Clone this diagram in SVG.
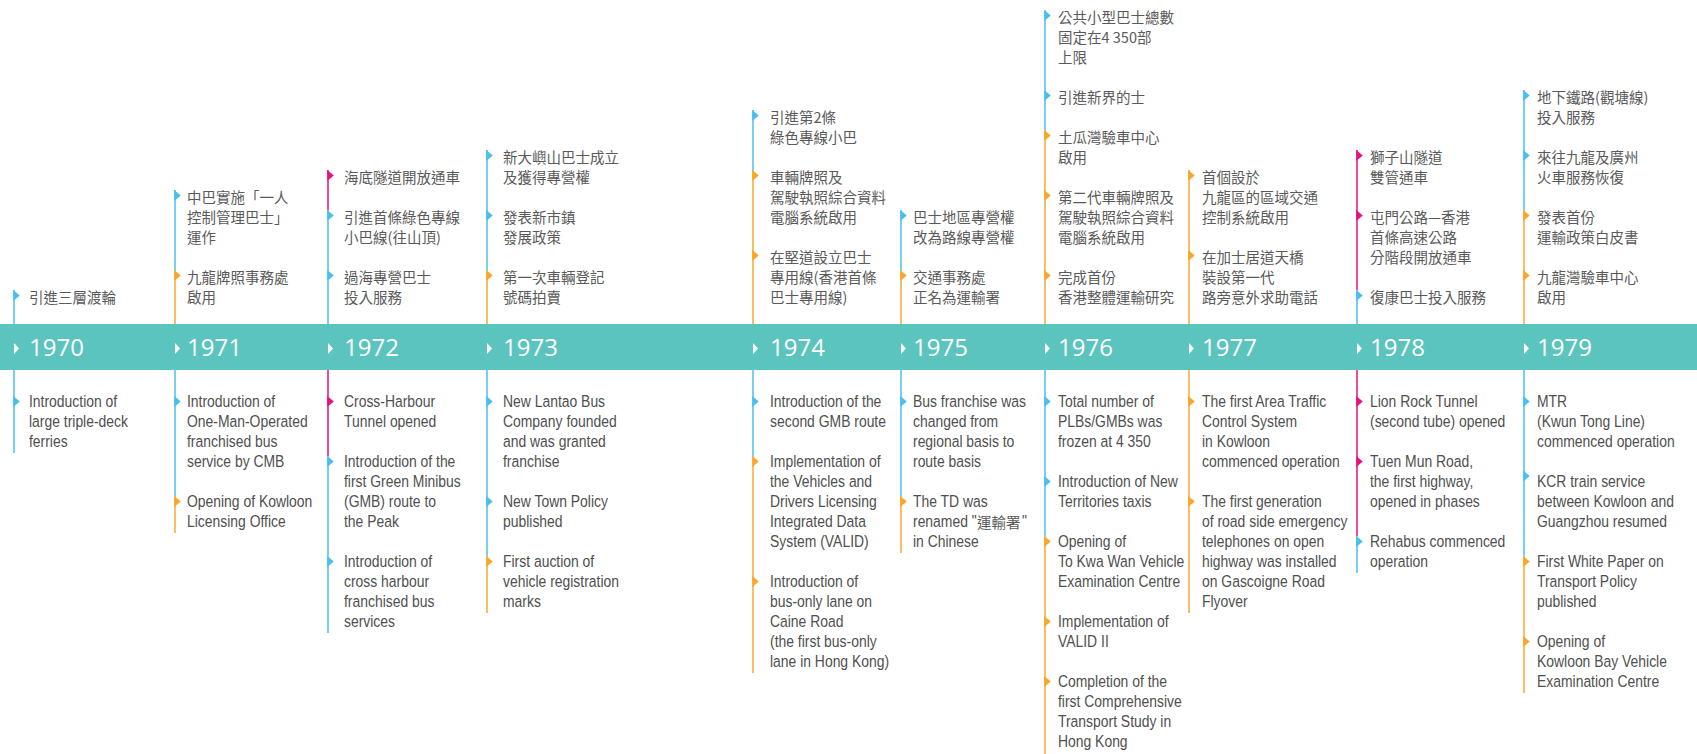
<svg xmlns="http://www.w3.org/2000/svg" xmlns:xlink="http://www.w3.org/1999/xlink" width="1697" height="754" viewBox="0 0 1697 754">
  <style>
    .cn { font-family: "Noto Sans CJK TC", "Noto Sans CJK SC", sans-serif; font-size: 14.5px; fill: #5a5a5a; }
    .en { font-family: "Liberation Sans", Arial, sans-serif; font-size: 16.5px; fill: #4f4f4f; }
    .yr { font-family: "Open Sans", "Noto Sans", sans-serif; font-size: 24px; fill: #ffffff; }
    .b { fill: #48c0ee; }
    .o { fill: #f8a72a; }
    .m { fill: #e6127f; }
    .lb { stroke: #48c0ee; stroke-width: 1.5; fill: none; }
    .lo { stroke: #f8a72a; stroke-width: 1.5; fill: none; }
    .lm { stroke: #e6127f; stroke-width: 1.5; fill: none; }
  </style>
  <defs>
    <path id="tick" d="M-0.75,-5.5 L5.75,0 L-0.75,5.5 Z"/>
    <path id="ytick" d="M0,-5.5 L5,0 L0,5.5 Z" fill="#ffffff"/>
  </defs>
  <rect width="1697" height="754" fill="#ffffff"/>

  <!-- vertical stems, coloured per event segment -->
  <g id="connectors">
    <line class="lb" x1="14" y1="290" x2="14" y2="324"/>
    <line class="lb" x1="14" y1="370" x2="14" y2="453"/>

    <line class="lb" x1="175" y1="190" x2="175" y2="270"/>
    <line class="lo" x1="175" y1="270" x2="175" y2="324"/>
    <line class="lb" x1="175" y1="370" x2="175" y2="496"/>
    <line class="lo" x1="175" y1="496" x2="175" y2="533"/>

    <line class="lm" x1="328" y1="170" x2="328" y2="210"/>
    <line class="lb" x1="328" y1="210" x2="328" y2="324"/>
    <line class="lm" x1="328" y1="370" x2="328" y2="456"/>
    <line class="lb" x1="328" y1="456" x2="328" y2="633"/>

    <line class="lb" x1="487" y1="150" x2="487" y2="270"/>
    <line class="lo" x1="487" y1="270" x2="487" y2="324"/>
    <line class="lb" x1="487" y1="370" x2="487" y2="556"/>
    <line class="lo" x1="487" y1="556" x2="487" y2="613"/>

    <line class="lb" x1="753" y1="110" x2="753" y2="170"/>
    <line class="lo" x1="753" y1="170" x2="753" y2="324"/>
    <line class="lb" x1="753" y1="370" x2="753" y2="456"/>
    <line class="lo" x1="753" y1="456" x2="753" y2="673"/>

    <line class="lb" x1="901" y1="210" x2="901" y2="270"/>
    <line class="lo" x1="901" y1="270" x2="901" y2="324"/>
    <line class="lb" x1="901" y1="370" x2="901" y2="496"/>
    <line class="lo" x1="901" y1="496" x2="901" y2="553"/>

    <line class="lb" x1="1045" y1="10" x2="1045" y2="130"/>
    <line class="lo" x1="1045" y1="130" x2="1045" y2="324"/>
    <line class="lb" x1="1045" y1="370" x2="1045" y2="536"/>
    <line class="lo" x1="1045" y1="536" x2="1045" y2="754"/>

    <line class="lo" x1="1189" y1="170" x2="1189" y2="324"/>
    <line class="lo" x1="1189" y1="370" x2="1189" y2="613"/>

    <line class="lm" x1="1357" y1="150" x2="1357" y2="290"/>
    <line class="lb" x1="1357" y1="290" x2="1357" y2="324"/>
    <line class="lm" x1="1357" y1="370" x2="1357" y2="536"/>
    <line class="lb" x1="1357" y1="536" x2="1357" y2="573"/>

    <line class="lb" x1="1524" y1="90" x2="1524" y2="210"/>
    <line class="lo" x1="1524" y1="210" x2="1524" y2="324"/>
    <line class="lb" x1="1524" y1="370" x2="1524" y2="556"/>
    <line class="lo" x1="1524" y1="556" x2="1524" y2="693"/>
  </g>

  <!-- year band -->
  <g id="band">
    <rect x="0" y="324" width="1697" height="46" fill="#5bc4be"/>
  </g>

  <!-- English captions use a horizontally condensed face: matrix(0.844 0 0 1 x 0) -->
  <g id="y1970">
    <use xlink:href="#ytick" x="14" y="348.5"/>
    <text class="yr" x="29" y="356">1970</text>
    <use xlink:href="#tick" class="b" x="14" y="295.5"/>
    <text class="cn" x="29" y="302.5">引進三層渡輪</text>
    <use xlink:href="#tick" class="b" x="14" y="401.5"/>
    <text class="en" transform="matrix(0.844 0 0 1 29 0)" y="407.5"><tspan x="0">Introduction of</tspan><tspan x="0" dy="20">large triple-deck</tspan><tspan x="0" dy="20">ferries</tspan></text>
  </g>

  <g id="y1971">
    <use xlink:href="#ytick" x="175" y="348.5"/>
    <text class="yr" x="187" y="356">1971</text>
    <use xlink:href="#tick" class="b" x="175" y="195.5"/>
    <text class="cn" x="187" y="202.5"><tspan x="187">中巴實施「一人</tspan><tspan x="187" dy="20">控制管理巴士」</tspan><tspan x="187" dy="20">運作</tspan></text>
    <use xlink:href="#tick" class="o" x="175" y="275.5"/>
    <text class="cn" x="187" y="282.5"><tspan x="187">九龍牌照事務處</tspan><tspan x="187" dy="20">啟用</tspan></text>
    <use xlink:href="#tick" class="b" x="175" y="401.5"/>
    <text class="en" transform="matrix(0.844 0 0 1 187 0)" y="407.5"><tspan x="0">Introduction of</tspan><tspan x="0" dy="20">One-Man-Operated</tspan><tspan x="0" dy="20">franchised bus</tspan><tspan x="0" dy="20">service by CMB</tspan></text>
    <use xlink:href="#tick" class="o" x="175" y="501.5"/>
    <text class="en" transform="matrix(0.844 0 0 1 187 0)" y="507.5"><tspan x="0">Opening of Kowloon</tspan><tspan x="0" dy="20">Licensing Office</tspan></text>
  </g>

  <g id="y1972">
    <use xlink:href="#ytick" x="328" y="348.5"/>
    <text class="yr" x="344" y="356">1972</text>
    <use xlink:href="#tick" class="m" x="328" y="175.5"/>
    <text class="cn" x="344" y="182.5">海底隧道開放通車</text>
    <use xlink:href="#tick" class="b" x="328" y="215.5"/>
    <text class="cn" x="344" y="222.5"><tspan x="344">引進首條綠色專線</tspan><tspan x="344" dy="20">小巴線(往山頂)</tspan></text>
    <use xlink:href="#tick" class="b" x="328" y="275.5"/>
    <text class="cn" x="344" y="282.5"><tspan x="344">過海專營巴士</tspan><tspan x="344" dy="20">投入服務</tspan></text>
    <use xlink:href="#tick" class="m" x="328" y="401.5"/>
    <text class="en" transform="matrix(0.844 0 0 1 344 0)" y="407.5"><tspan x="0">Cross-Harbour</tspan><tspan x="0" dy="20">Tunnel opened</tspan></text>
    <use xlink:href="#tick" class="b" x="328" y="461.5"/>
    <text class="en" transform="matrix(0.844 0 0 1 344 0)" y="467.5"><tspan x="0">Introduction of the</tspan><tspan x="0" dy="20">first Green Minibus</tspan><tspan x="0" dy="20">(GMB) route to</tspan><tspan x="0" dy="20">the Peak</tspan></text>
    <use xlink:href="#tick" class="b" x="328" y="561.5"/>
    <text class="en" transform="matrix(0.844 0 0 1 344 0)" y="567.5"><tspan x="0">Introduction of</tspan><tspan x="0" dy="20">cross harbour</tspan><tspan x="0" dy="20">franchised bus</tspan><tspan x="0" dy="20">services</tspan></text>
  </g>

  <g id="y1973">
    <use xlink:href="#ytick" x="487" y="348.5"/>
    <text class="yr" x="503" y="356">1973</text>
    <use xlink:href="#tick" class="b" x="487" y="155.5"/>
    <text class="cn" x="503" y="162.5"><tspan x="503">新大嶼山巴士成立</tspan><tspan x="503" dy="20">及獲得專營權</tspan></text>
    <use xlink:href="#tick" class="b" x="487" y="215.5"/>
    <text class="cn" x="503" y="222.5"><tspan x="503">發表新市鎮</tspan><tspan x="503" dy="20">發展政策</tspan></text>
    <use xlink:href="#tick" class="o" x="487" y="275.5"/>
    <text class="cn" x="503" y="282.5"><tspan x="503">第一次車輛登記</tspan><tspan x="503" dy="20">號碼拍賣</tspan></text>
    <use xlink:href="#tick" class="b" x="487" y="401.5"/>
    <text class="en" transform="matrix(0.844 0 0 1 503 0)" y="407.5"><tspan x="0">New Lantao Bus</tspan><tspan x="0" dy="20">Company founded</tspan><tspan x="0" dy="20">and was granted</tspan><tspan x="0" dy="20">franchise</tspan></text>
    <use xlink:href="#tick" class="b" x="487" y="501.5"/>
    <text class="en" transform="matrix(0.844 0 0 1 503 0)" y="507.5"><tspan x="0">New Town Policy</tspan><tspan x="0" dy="20">published</tspan></text>
    <use xlink:href="#tick" class="o" x="487" y="561.5"/>
    <text class="en" transform="matrix(0.844 0 0 1 503 0)" y="567.5"><tspan x="0">First auction of</tspan><tspan x="0" dy="20">vehicle registration</tspan><tspan x="0" dy="20">marks</tspan></text>
  </g>

  <g id="y1974">
    <use xlink:href="#ytick" x="753" y="348.5"/>
    <text class="yr" x="770" y="356">1974</text>
    <use xlink:href="#tick" class="b" x="753" y="115.5"/>
    <text class="cn" x="770" y="122.5"><tspan x="770">引進第2條</tspan><tspan x="770" dy="20">綠色專線小巴</tspan></text>
    <use xlink:href="#tick" class="o" x="753" y="175.5"/>
    <text class="cn" x="770" y="182.5"><tspan x="770">車輛牌照及</tspan><tspan x="770" dy="20">駕駛執照綜合資料</tspan><tspan x="770" dy="20">電腦系統啟用</tspan></text>
    <use xlink:href="#tick" class="o" x="753" y="255.5"/>
    <text class="cn" x="770" y="262.5"><tspan x="770">在堅道設立巴士</tspan><tspan x="770" dy="20">專用線(香港首條</tspan><tspan x="770" dy="20">巴士專用線)</tspan></text>
    <use xlink:href="#tick" class="b" x="753" y="401.5"/>
    <text class="en" transform="matrix(0.844 0 0 1 770 0)" y="407.5"><tspan x="0">Introduction of the</tspan><tspan x="0" dy="20">second GMB route</tspan></text>
    <use xlink:href="#tick" class="o" x="753" y="461.5"/>
    <text class="en" transform="matrix(0.844 0 0 1 770 0)" y="467.5"><tspan x="0">Implementation of</tspan><tspan x="0" dy="20">the Vehicles and</tspan><tspan x="0" dy="20">Drivers Licensing</tspan><tspan x="0" dy="20">Integrated Data</tspan><tspan x="0" dy="20">System (VALID)</tspan></text>
    <use xlink:href="#tick" class="o" x="753" y="581.5"/>
    <text class="en" transform="matrix(0.844 0 0 1 770 0)" y="587.5"><tspan x="0">Introduction of</tspan><tspan x="0" dy="20">bus-only lane on</tspan><tspan x="0" dy="20">Caine Road</tspan><tspan x="0" dy="20">(the first bus-only</tspan><tspan x="0" dy="20">lane in Hong Kong)</tspan></text>
  </g>

  <g id="y1975">
    <use xlink:href="#ytick" x="901" y="348.5"/>
    <text class="yr" x="913" y="356">1975</text>
    <use xlink:href="#tick" class="b" x="901" y="215.5"/>
    <text class="cn" x="913" y="222.5"><tspan x="913">巴士地區專營權</tspan><tspan x="913" dy="20">改為路線專營權</tspan></text>
    <use xlink:href="#tick" class="o" x="901" y="275.5"/>
    <text class="cn" x="913" y="282.5"><tspan x="913">交通事務處</tspan><tspan x="913" dy="20">正名為運輸署</tspan></text>
    <use xlink:href="#tick" class="b" x="901" y="401.5"/>
    <text class="en" transform="matrix(0.844 0 0 1 913 0)" y="407.5"><tspan x="0">Bus franchise was</tspan><tspan x="0" dy="20">changed from</tspan><tspan x="0" dy="20">regional basis to</tspan><tspan x="0" dy="20">route basis</tspan></text>
    <use xlink:href="#tick" class="o" x="901" y="501.5"/>
    <text class="en" transform="matrix(0.844 0 0 1 913 0)" y="507.5"><tspan x="0">The TD was</tspan><tspan x="0" dy="20">renamed "</tspan><tspan x="0" dy="20">in Chinese</tspan></text>
    <text class="cn" x="977" y="527.5">運輸署</text>
    <text class="en" transform="matrix(0.844 0 0 1 1022 0)" x="0" y="527.5">"</text>
  </g>

  <g id="y1976">
    <use xlink:href="#ytick" x="1045" y="348.5"/>
    <text class="yr" x="1058" y="356">1976</text>
    <use xlink:href="#tick" class="b" x="1045" y="15.5"/>
    <text class="cn" x="1058" y="22.5"><tspan x="1058">公共小型巴士總數</tspan><tspan x="1058" dy="20">固定在4 350部</tspan><tspan x="1058" dy="20">上限</tspan></text>
    <use xlink:href="#tick" class="b" x="1045" y="95.5"/>
    <text class="cn" x="1058" y="102.5">引進新界的士</text>
    <use xlink:href="#tick" class="o" x="1045" y="135.5"/>
    <text class="cn" x="1058" y="142.5"><tspan x="1058">土瓜灣驗車中心</tspan><tspan x="1058" dy="20">啟用</tspan></text>
    <use xlink:href="#tick" class="o" x="1045" y="195.5"/>
    <text class="cn" x="1058" y="202.5"><tspan x="1058">第二代車輛牌照及</tspan><tspan x="1058" dy="20">駕駛執照綜合資料</tspan><tspan x="1058" dy="20">電腦系統啟用</tspan></text>
    <use xlink:href="#tick" class="o" x="1045" y="275.5"/>
    <text class="cn" x="1058" y="282.5"><tspan x="1058">完成首份</tspan><tspan x="1058" dy="20">香港整體運輸研究</tspan></text>
    <use xlink:href="#tick" class="b" x="1045" y="401.5"/>
    <text class="en" transform="matrix(0.844 0 0 1 1058 0)" y="407.5"><tspan x="0">Total number of</tspan><tspan x="0" dy="20">PLBs/GMBs was</tspan><tspan x="0" dy="20">frozen at 4 350</tspan></text>
    <use xlink:href="#tick" class="b" x="1045" y="481.5"/>
    <text class="en" transform="matrix(0.844 0 0 1 1058 0)" y="487.5"><tspan x="0">Introduction of New</tspan><tspan x="0" dy="20">Territories taxis</tspan></text>
    <use xlink:href="#tick" class="o" x="1045" y="541.5"/>
    <text class="en" transform="matrix(0.844 0 0 1 1058 0)" y="547.5"><tspan x="0">Opening of</tspan><tspan x="0" dy="20">To Kwa Wan Vehicle</tspan><tspan x="0" dy="20">Examination Centre</tspan></text>
    <use xlink:href="#tick" class="o" x="1045" y="621.5"/>
    <text class="en" transform="matrix(0.844 0 0 1 1058 0)" y="627.5"><tspan x="0">Implementation of</tspan><tspan x="0" dy="20">VALID II</tspan></text>
    <use xlink:href="#tick" class="o" x="1045" y="681.5"/>
    <text class="en" transform="matrix(0.844 0 0 1 1058 0)" y="687.5"><tspan x="0">Completion of the</tspan><tspan x="0" dy="20">first Comprehensive</tspan><tspan x="0" dy="20">Transport Study in</tspan><tspan x="0" dy="20">Hong Kong</tspan></text>
  </g>

  <g id="y1977">
    <use xlink:href="#ytick" x="1189" y="348.5"/>
    <text class="yr" x="1202" y="356">1977</text>
    <use xlink:href="#tick" class="o" x="1189" y="175.5"/>
    <text class="cn" x="1202" y="182.5"><tspan x="1202">首個設於</tspan><tspan x="1202" dy="20">九龍區的區域交通</tspan><tspan x="1202" dy="20">控制系統啟用</tspan></text>
    <use xlink:href="#tick" class="o" x="1189" y="255.5"/>
    <text class="cn" x="1202" y="262.5"><tspan x="1202">在加士居道天橋</tspan><tspan x="1202" dy="20">裝設第一代</tspan><tspan x="1202" dy="20">路旁意外求助電話</tspan></text>
    <use xlink:href="#tick" class="o" x="1189" y="401.5"/>
    <text class="en" transform="matrix(0.844 0 0 1 1202 0)" y="407.5"><tspan x="0">The first Area Traffic</tspan><tspan x="0" dy="20">Control System</tspan><tspan x="0" dy="20">in Kowloon</tspan><tspan x="0" dy="20">commenced operation</tspan></text>
    <use xlink:href="#tick" class="o" x="1189" y="501.5"/>
    <text class="en" transform="matrix(0.844 0 0 1 1202 0)" y="507.5"><tspan x="0">The first generation</tspan><tspan x="0" dy="20">of road side emergency</tspan><tspan x="0" dy="20">telephones on open</tspan><tspan x="0" dy="20">highway was installed</tspan><tspan x="0" dy="20">on Gascoigne Road</tspan><tspan x="0" dy="20">Flyover</tspan></text>
  </g>

  <g id="y1978">
    <use xlink:href="#ytick" x="1357" y="348.5"/>
    <text class="yr" x="1370" y="356">1978</text>
    <use xlink:href="#tick" class="m" x="1357" y="155.5"/>
    <text class="cn" x="1370" y="162.5"><tspan x="1370">獅子山隧道</tspan><tspan x="1370" dy="20">雙管通車</tspan></text>
    <use xlink:href="#tick" class="m" x="1357" y="215.5"/>
    <text class="cn" x="1370" y="222.5"><tspan x="1370">屯門公路—香港</tspan><tspan x="1370" dy="20">首條高速公路</tspan><tspan x="1370" dy="20">分階段開放通車</tspan></text>
    <use xlink:href="#tick" class="b" x="1357" y="295.5"/>
    <text class="cn" x="1370" y="302.5">復康巴士投入服務</text>
    <use xlink:href="#tick" class="m" x="1357" y="401.5"/>
    <text class="en" transform="matrix(0.844 0 0 1 1370 0)" y="407.5"><tspan x="0">Lion Rock Tunnel</tspan><tspan x="0" dy="20">(second tube) opened</tspan></text>
    <use xlink:href="#tick" class="m" x="1357" y="461.5"/>
    <text class="en" transform="matrix(0.844 0 0 1 1370 0)" y="467.5"><tspan x="0">Tuen Mun Road,</tspan><tspan x="0" dy="20">the first highway,</tspan><tspan x="0" dy="20">opened in phases</tspan></text>
    <use xlink:href="#tick" class="b" x="1357" y="541.5"/>
    <text class="en" transform="matrix(0.844 0 0 1 1370 0)" y="547.5"><tspan x="0">Rehabus commenced</tspan><tspan x="0" dy="20">operation</tspan></text>
  </g>

  <g id="y1979">
    <use xlink:href="#ytick" x="1524" y="348.5"/>
    <text class="yr" x="1537" y="356">1979</text>
    <use xlink:href="#tick" class="b" x="1524" y="95.5"/>
    <text class="cn" x="1537" y="102.5"><tspan x="1537">地下鐵路(觀塘線)</tspan><tspan x="1537" dy="20">投入服務</tspan></text>
    <use xlink:href="#tick" class="b" x="1524" y="155.5"/>
    <text class="cn" x="1537" y="162.5"><tspan x="1537">來往九龍及廣州</tspan><tspan x="1537" dy="20">火車服務恢復</tspan></text>
    <use xlink:href="#tick" class="o" x="1524" y="215.5"/>
    <text class="cn" x="1537" y="222.5"><tspan x="1537">發表首份</tspan><tspan x="1537" dy="20">運輸政策白皮書</tspan></text>
    <use xlink:href="#tick" class="o" x="1524" y="275.5"/>
    <text class="cn" x="1537" y="282.5"><tspan x="1537">九龍灣驗車中心</tspan><tspan x="1537" dy="20">啟用</tspan></text>
    <use xlink:href="#tick" class="b" x="1524" y="401.5"/>
    <text class="en" transform="matrix(0.844 0 0 1 1537 0)" y="407.5"><tspan x="0">MTR</tspan><tspan x="0" dy="20">(Kwun Tong Line)</tspan><tspan x="0" dy="20">commenced operation</tspan></text>
    <use xlink:href="#tick" class="b" x="1524" y="476"/>
    <text class="en" transform="matrix(0.844 0 0 1 1537 0)" y="487.5"><tspan x="0">KCR train service</tspan><tspan x="0" dy="20">between Kowloon and</tspan><tspan x="0" dy="20">Guangzhou resumed</tspan></text>
    <use xlink:href="#tick" class="o" x="1524" y="561.5"/>
    <text class="en" transform="matrix(0.844 0 0 1 1537 0)" y="567.5"><tspan x="0">First White Paper on</tspan><tspan x="0" dy="20">Transport Policy</tspan><tspan x="0" dy="20">published</tspan></text>
    <use xlink:href="#tick" class="o" x="1524" y="641.5"/>
    <text class="en" transform="matrix(0.844 0 0 1 1537 0)" y="647.5"><tspan x="0">Opening of</tspan><tspan x="0" dy="20">Kowloon Bay Vehicle</tspan><tspan x="0" dy="20">Examination Centre</tspan></text>
  </g>
</svg>
